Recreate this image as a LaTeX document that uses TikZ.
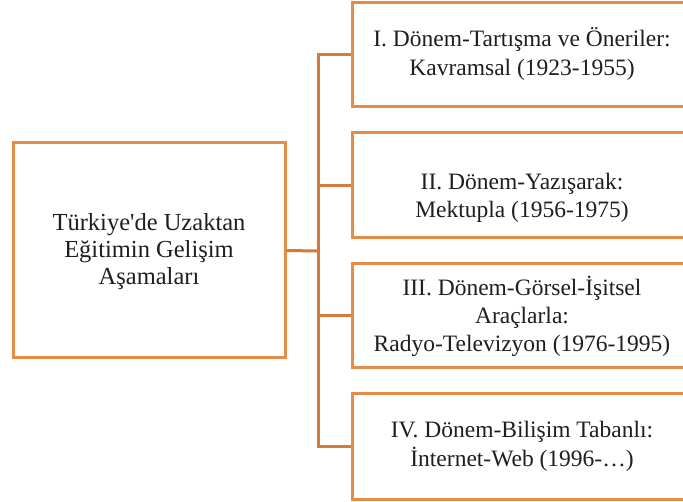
\documentclass[tikz,border=0pt]{standalone}
\usepackage{fontspec}
\setmainfont{Liberation Serif}
\definecolor{boxorange}{HTML}{E58C48}
\definecolor{connorange}{HTML}{D27B3B}
\begin{document}
\begin{tikzpicture}[x=1pt,y=-1pt,
  rbox/.style={draw=boxorange, line width=3pt, rectangle, inner sep=0pt, fill=white},
  conn/.style={draw=connorange, line width=3pt},
  txt/.style={inner sep=0pt, anchor=base, font=\fontsize{23.5}{28}\selectfont, text=black!88},
  ltxt/.style={inner sep=0pt, anchor=base, font=\fontsize{24.5}{27}\selectfont, text=black!88}]
\useasboundingbox (0,0) rectangle (683,502);
% boxes
\node[rbox, minimum width=272pt, minimum height=215pt] (L) at (149,250.5) {};
\node[rbox, minimum width=340pt, minimum height=104pt] (b1) at (522,55) {};
\node[rbox, minimum width=340pt, minimum height=105pt] (b2) at (522,185.5) {};
\node[rbox, minimum width=340pt, minimum height=104pt] (b3) at (522,316) {};
\node[rbox, minimum width=340pt, minimum height=105pt] (b4) at (522,446.5) {};
% connectors
\coordinate (s0) at (318,251);
\draw[conn] (L.east) -- (s0);
\draw[conn] (b1.west) -| (s0);
\draw[conn] (b2.west) -| (s0);
\draw[conn] (b3.west) -| (s0);
\draw[conn] (b4.west) -| (s0);
% texts
\node[ltxt] (l1) at (149,231) {Türkiye\textquotesingle de Uzaktan};
\node[ltxt] (l2) at (149,258) {Eğitimin Gelişim};
\node[ltxt] (l3) at (149,285) {Aşamaları};
\node[txt] (t11) at (522,47) {I. Dönem-Tartışma ve Öneriler:};
\node[txt] (t12) at (522,76) {Kavramsal (1923-1955)};
\node[txt] (t21) at (522,190) {II. Dönem-Yazışarak:};
\node[txt] (t22) at (522,218) {Mektupla (1956-1975)};
\node[txt] (t31) at (522,296) {III. Dönem-Görsel-İşitsel};
\node[txt] (t32) at (522,324) {Araçlarla:};
\node[txt] (t33) at (522,352) {Radyo-Televizyon (1976-1995)};
\node[txt] (t41) at (522,438) {IV. Dönem-Bilişim Tabanlı:};
\node[txt] (t42) at (522,467) {İnternet-Web (1996-…)};
\end{tikzpicture}
\end{document}
